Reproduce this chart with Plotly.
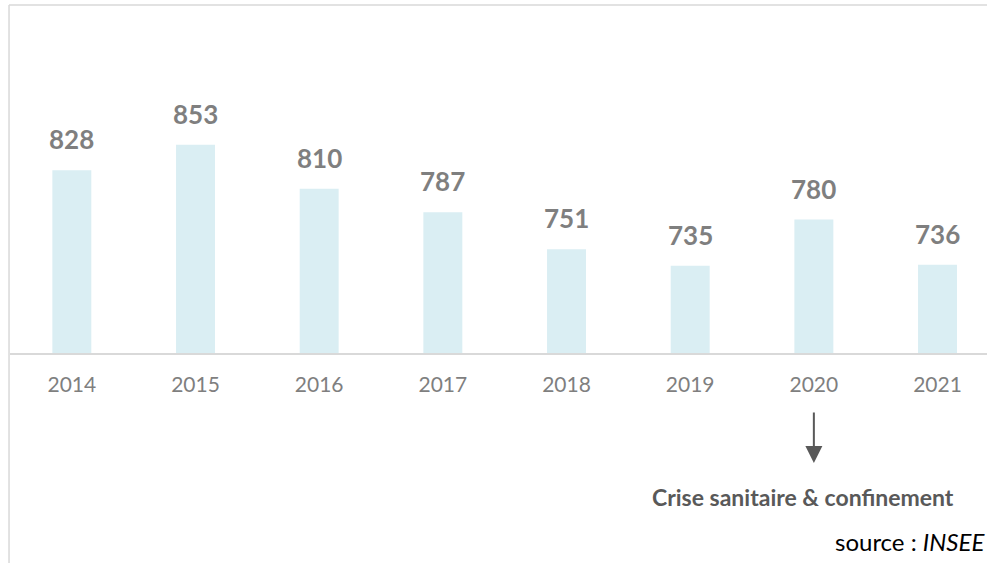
import plotly.graph_objects as go

years = ["2014", "2015", "2016", "2017", "2018", "2019", "2020", "2021"]
values = [828, 853, 810, 787, 751, 735, 780, 736]

note_year = "2020"
note_text = "Crise sanitaire & confinement"
source_text = "source : <i>INSEE</i>"

FONT = "Lato, 'Open Sans', sans-serif"
GREY = "#7f7f7f"
DARK = "#595959"
LINE = "#d9d9d9"

pos = list(range(len(years)))

fig = go.Figure()

fig.add_trace(
    go.Bar(
        x=pos,
        y=values,
        width=0.315,
        marker=dict(color="#daeef3", line=dict(width=0)),
        hovertext=years,
        hoverinfo="text+y",
    )
)

# value labels above bars
for i, v in zip(pos, values):
    fig.add_annotation(
        x=i, y=v, xref="x", yref="y",
        text=f"<b>{v}</b>",
        showarrow=False,
        yanchor="bottom",
        yshift=13,
        font=dict(family=FONT, size=26, color=GREY),
    )

# arrow under 2020
fig.add_annotation(
    x=years.index(note_year), y=-0.315, xref="x", yref="paper",
    ax=0, ay=-52,
    text="",
    showarrow=True,
    arrowhead=2,
    arrowsize=1.7,
    arrowwidth=2,
    arrowcolor=DARK,
)
fig.add_annotation(
    x=0.812, y=-0.413, xref="paper", yref="paper",
    text=f"<b>{note_text}</b>",
    showarrow=False,
    xanchor="center", yanchor="middle",
    font=dict(family=FONT, size=23, color=DARK),
)
fig.add_annotation(
    x=1.0, y=-0.54, xref="paper", yref="paper",
    text=source_text,
    showarrow=False,
    xanchor="right", yanchor="middle",
    font=dict(family=FONT, size=24, color="#000000"),
)

# frame lines (top and left)
fig.add_shape(type="line", xref="paper", yref="paper",
              x0=-0.001, x1=1.0, y0=0.997, y1=0.997,
              line=dict(color=LINE, width=1.5))
fig.add_shape(type="line", xref="paper", yref="paper",
              x0=-0.001, x1=-0.001, y0=0.997, y1=-0.61,
              line=dict(color=LINE, width=1.5))

fig.update_layout(
    width=987,
    height=563,
    margin=dict(l=10, r=0, t=4, b=210),
    plot_bgcolor="white",
    paper_bgcolor="white",
    showlegend=False,
    font=dict(family=FONT, color=GREY),
    xaxis=dict(
        range=[-0.5, 7.4],
        tickvals=pos,
        ticktext=years,
        showline=True,
        linecolor=LINE,
        linewidth=1.5,
        showgrid=False,
        zeroline=False,
        ticks="",
        ticklabelstandoff=12,
        tickfont=dict(family=FONT, size=21, color=GREY),
        fixedrange=True,
    ),
    yaxis=dict(
        range=[650, 990],
        visible=False,
        showgrid=False,
        fixedrange=True,
    ),
)

fig.write_html(
    "out.html",
    config={"displayModeBar": False},
    post_script="document.body.style.margin='0';",
)
